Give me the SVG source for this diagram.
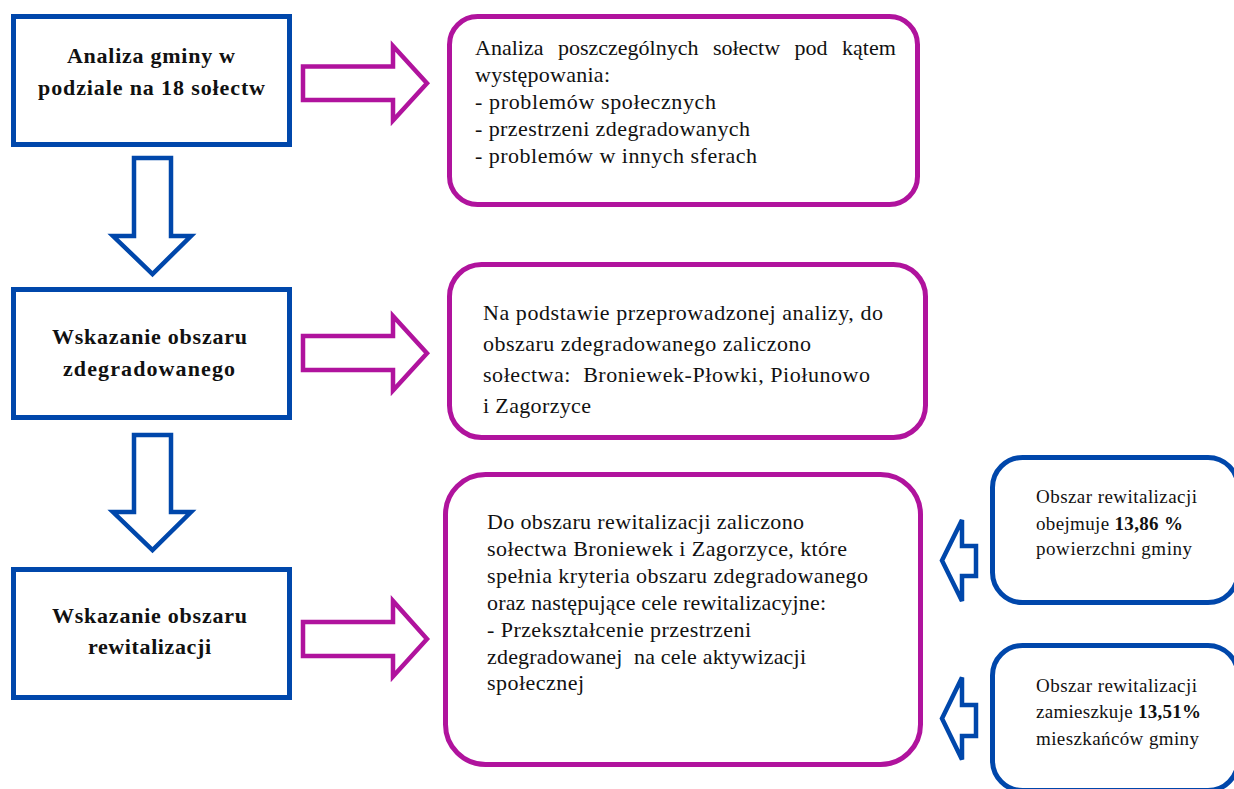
<svg xmlns="http://www.w3.org/2000/svg" width="1234" height="789" viewBox="0 0 1234 789">
<style>
.bbox{fill:#fff;stroke:#0047AB;stroke-width:5}
.mbox{fill:#fff;stroke:#B0139D;stroke-width:5}
.barr{fill:#fff;stroke:#0047AB;stroke-width:4.5;stroke-linejoin:miter}
.marr{fill:#fff;stroke:#B0139D;stroke-width:4.5;stroke-linejoin:miter}
.h{font-family:"Liberation Serif","Times New Roman",serif;font-weight:bold;font-size:22px;fill:#111}
.t{font-family:"Liberation Serif","Times New Roman",serif;font-size:22px;fill:#111}
.s{font-family:"Liberation Serif","Times New Roman",serif;font-size:19px;fill:#111}
</style>
<rect width="1234" height="789" fill="#fff"/>
<g id="connectors">
<polygon class="barr" points="134,158 171,158 171,236 191,236 152.5,274 113,236 134,236"/>
<polygon class="barr" points="134,435 171,435 171,512 191,512 152.5,550 113,512 134,512"/>
<polygon class="marr" points="303,66.5 393,66.5 393,46 427,83.3 393,120.5 393,100 303,100"/>
<polygon class="marr" points="303,336 393,336 393,316 427,353.3 393,390.5 393,370 303,370"/>
<polygon class="marr" points="303,622 393,622 393,601 427,639 393,676.5 393,656 303,656"/>
<polygon class="barr" points="976,546 962,546 962,520 942,560.5 962,601 962,576 976,576"/>
<polygon class="barr" points="976,705 962,705 962,677.5 942,718.5 962,759.5 962,736 976,736"/>
</g>
<g id="node-analiza">
<rect class="bbox" x="13.5" y="16.5" width="276" height="128"/>
<text class="h" x="67" y="63" textLength="168">Analiza gminy w</text>
<text class="h" x="38" y="95" textLength="227">podziale na 18 sołectw</text>
</g>
<g id="node-wskazanie-zdeg">
<rect class="bbox" x="13.5" y="289.5" width="276" height="128"/>
<text class="h" x="52" y="344" textLength="195">Wskazanie obszaru</text>
<text class="h" x="63" y="376" textLength="172">zdegradowanego</text>
</g>
<g id="node-wskazanie-rew">
<rect class="bbox" x="13.5" y="569.5" width="276" height="128"/>
<text class="h" x="52" y="623" textLength="195">Wskazanie obszaru</text>
<text class="h" x="88" y="654" textLength="123">rewitalizacji</text>
</g>
<g id="node-opis-analiza">
<rect class="mbox" x="449.5" y="16.5" width="468" height="188" rx="28"/>
<text class="t" x="475" y="55" word-spacing="9">Analiza poszczególnych sołectw pod kątem</text>
<text class="t" x="475" y="82" textLength="135">występowania:</text>
<text class="t" x="475" y="109" textLength="241">- problemów społecznych</text>
<text class="t" x="475" y="136" textLength="275">- przestrzeni zdegradowanych</text>
<text class="t" x="475" y="163" textLength="282">- problemów w innych sferach</text>
</g>
<g id="node-opis-zdeg">
<rect class="mbox" x="449.5" y="264.5" width="476" height="173" rx="32"/>
<text class="t" x="483" y="320" textLength="400">Na podstawie przeprowadzonej analizy, do</text>
<text class="t" x="483" y="351" textLength="328">obszaru zdegradowanego zaliczono</text>
<text class="t" x="483" y="382" textLength="387" xml:space="preserve">sołectwa:  Broniewek-Płowki, Piołunowo</text>
<text class="t" x="483" y="413" textLength="108">i Zagorzyce</text>
</g>
<g id="node-opis-rew">
<rect class="mbox" x="445.5" y="474.5" width="475" height="290" rx="40"/>
<text class="t" x="487" y="529" textLength="317">Do obszaru rewitalizacji zaliczono</text>
<text class="t" x="487" y="556" textLength="360">sołectwa Broniewek i Zagorzyce, które</text>
<text class="t" x="487" y="583" textLength="381">spełnia kryteria obszaru zdegradowanego</text>
<text class="t" x="487" y="610" textLength="339">oraz następujące cele rewitalizacyjne:</text>
<text class="t" x="487" y="637" textLength="264">- Przekształcenie przestrzeni</text>
<text class="t" x="487" y="664" textLength="319" xml:space="preserve">zdegradowanej  na cele aktywizacji</text>
<text class="t" x="487" y="690" textLength="97">społecznej</text>
</g>
<g id="node-powierzchnia">
<rect class="bbox" x="992.5" y="457.5" width="245.5" height="145" rx="30"/>
<text class="s" x="1036" y="503" textLength="161">Obszar rewitalizacji</text>
<text class="s" x="1036" y="530" textLength="147">obejmuje <tspan font-weight="bold">13,86 %</tspan></text>
<text class="s" x="1036" y="555" textLength="156">powierzchni gminy</text>
</g>
<g id="node-mieszkancy">
<rect class="bbox" x="992.5" y="645.5" width="245.5" height="145" rx="30"/>
<text class="s" x="1036" y="692" textLength="161">Obszar rewitalizacji</text>
<text class="s" x="1036" y="718" textLength="165">zamieszkuje <tspan font-weight="bold">13,51%</tspan></text>
<text class="s" x="1036" y="745" textLength="163">mieszkańców gminy</text>
</g>
</svg>
